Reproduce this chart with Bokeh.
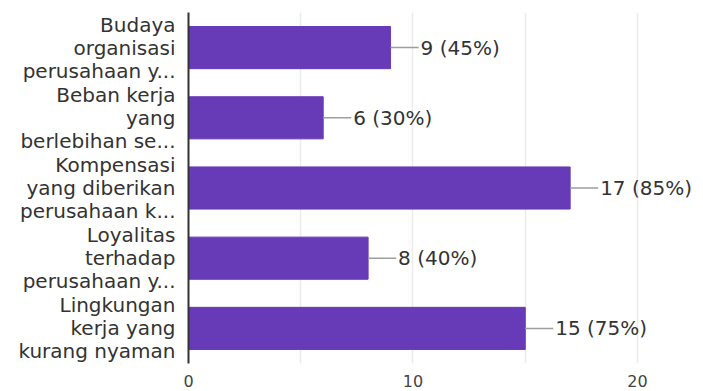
from bokeh.plotting import figure
from bokeh.models import Range1d, FactorRange, FixedTicker, ColumnDataSource
from bokeh.core.properties import value
from bokeh.embed import file_html
from bokeh.resources import INLINE

categories = [
    "Budaya\norganisasi\nperusahaan y...",
    "Beban kerja\nyang\nberlebihan se...",
    "Kompensasi\nyang diberikan\nperusahaan k...",
    "Loyalitas\nterhadap\nperusahaan y...",
    "Lingkungan\nkerja yang\nkurang nyaman",
]
counts = [9, 6, 17, 8, 15]
percents = [45, 30, 85, 40, 75]
x_ticks = [0, 10, 20]
grid_ticks = [0, 5, 10, 15, 20]

FONT = "DejaVu Sans"
BAR = "#673ab7"

labels = [f"{c} ({p}%)" for c, p in zip(counts, percents)]
src = ColumnDataSource(dict(cat=categories, val=counts, lab=labels,
                            lead=[c + 1.25 for c in counts]))

p = figure(width=703, height=391, output_backend="svg", toolbar_location=None,
           x_range=Range1d(0, 22.94),
           y_range=FactorRange(*list(reversed(categories)), range_padding=0))
p.min_border_left = 188
p.min_border_right = 0
p.min_border_top = 12
p.min_border_bottom = 28
p.outline_line_color = None
p.background_fill_color = "white"
p.border_fill_color = "white"

p.hbar(y="cat", right="val", left=0, height=0.6, source=src, color=BAR)
p.segment(x0="val", y0="cat", x1="lead", y1="cat", source=src, line_color="#9e9e9e", line_width=1.5)
p.text(x="val", y="cat", text="lab", source=src, x_offset=30, text_baseline="middle",
       text_align="left", text_font=value(FONT), text_font_size="20px", text_color="#333333")

p.xgrid.ticker = FixedTicker(ticks=grid_ticks)
p.xgrid.grid_line_color = "#ebebeb"
p.xgrid.grid_line_width = 1.5
p.ygrid.grid_line_color = None

xa = p.xaxis[0]
xa.ticker = FixedTicker(ticks=x_ticks)
xa.axis_line_color = None
xa.major_tick_line_color = None
xa.minor_tick_line_color = None
xa.major_label_text_font = FONT
xa.major_label_text_font_size = "16px"
xa.major_label_text_color = "#444444"
xa.major_label_standoff = 5

ya = p.yaxis[0]
ya.axis_line_color = "#333333"
ya.axis_line_width = 2
ya.major_tick_line_color = None
ya.minor_tick_line_color = None
ya.major_label_text_font = FONT
ya.major_label_text_font_size = "20px"
ya.major_label_text_color = "#333333"
ya.major_label_text_line_height = 0.96
ya.major_label_standoff = 7

open("out.html", "w").write(file_html(p, INLINE))
